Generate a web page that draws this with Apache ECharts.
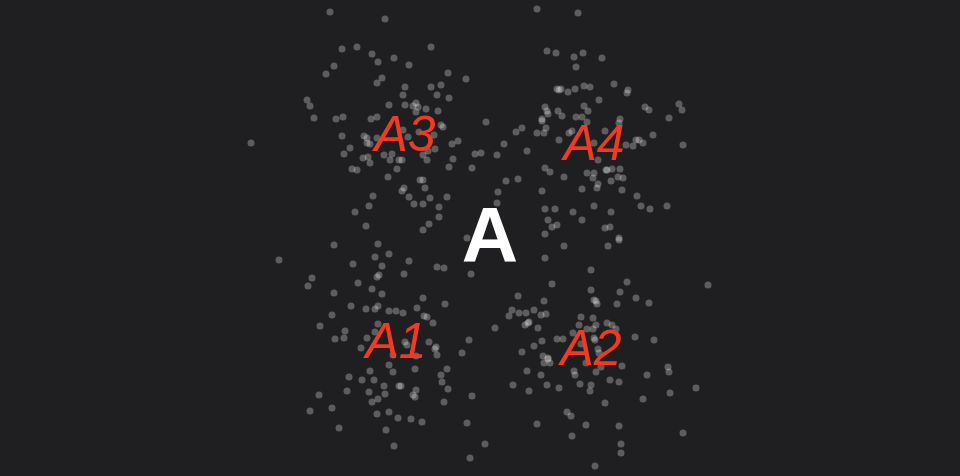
<!DOCTYPE html>
<html>
<head>
<meta charset="utf-8">
<script src="https://cdn.jsdelivr.net/npm/echarts@6/dist/echarts.min.js"></script>
<style>
html,body{margin:0;padding:0;background:#1f1f21;}
#main{width:960px;height:476px;}
</style>
</head>
<body>
<div id="main"></div>
<script>
// scatter dots, [x, y] in chart value units (y grows downward)
var dots = [
[330,12],[385,19],[342,49],[357,47],[372,54],[378,62],[394,58],[334,66],[326,74],[382,78],
[377,83],[307,100],[310,106],[389,105],[314,118],[336,119],[343,117],[371,119],[377,117],
[537,9],[431,47],[409,65],[547,51],[556,53],[448,73],[466,79],[405,87],[431,87],[441,85],
[403,95],[437,95],[449,98],[405,105],[413,106],[416,103],[418,107],[426,109],[416,112],[438,111],
[557,89],[559,90],[545,107],[547,111],[548,114],[558,111],[542,119],
[578,13],[583,53],[574,57],[602,58],[576,67],[614,84],[628,90],[627,93],[561,89],[568,92],
[575,89],[584,86],[590,87],[599,100],[584,106],[588,111],[562,116],[576,117],[582,117],
[645,107],[649,110],[679,104],[682,110],[669,118],[620,119],
[251,143],[342,136],[364,136],[367,138],[367,143],[370,144],[377,138],[350,148],[344,154],
[363,158],[368,157],[370,163],[352,169],[357,170],[384,155],[392,154],[390,160],[399,160],
[397,169],[388,177],[373,196],[369,206],[355,212],[366,226],
[441,125],[443,127],[486,122],[542,121],[403,130],[408,137],[419,132],[434,135],[516,132],
[522,128],[537,133],[544,133],[546,128],[559,140],[452,144],[458,141],[504,144],[428,151],
[435,149],[423,155],[475,154],[481,153],[497,155],[527,151],[453,159],[427,160],[402,160],
[449,167],[472,168],[545,168],[550,172],[506,181],[518,179],[420,180],[423,180],[425,188],
[404,188],[402,191],[498,192],[542,191],[409,197],[430,198],[447,197],[414,204],[423,204],
[439,207],[497,203],[545,209],[555,209],[439,217],[548,220],[552,227],[557,225],[429,224],
[423,230],[545,234],[467,238],
[569,133],[572,131],[587,122],[619,123],[605,131],[594,143],[653,135],[626,145],[633,146],
[636,140],[639,140],[643,143],[683,145],[598,160],[606,170],[607,170],[612,169],[620,169],
[587,173],[594,173],[593,178],[564,177],[611,181],[618,177],[623,178],[598,184],[597,188],
[582,189],[622,190],[637,196],[594,206],[641,206],[650,209],[667,206],[573,212],[611,212],
[582,220],[605,228],[610,227],[619,238],
[279,260],[334,245],[378,244],[375,257],[389,254],[353,264],[382,266],[379,275],[377,277],
[312,278],[308,286],[358,283],[372,289],[334,293],[382,294],[351,306],[366,309],[375,309],
[378,306],[389,311],[396,311],[332,315],[320,326],[378,324],[375,332],[345,331],[335,339],
[344,338],[367,338],[361,348],[393,355],
[545,258],[409,261],[404,274],[437,267],[444,268],[471,274],[552,284],[518,296],[544,301],
[423,298],[445,304],[417,308],[403,313],[424,316],[427,317],[433,323],[512,310],[509,316],
[519,313],[526,313],[534,310],[541,315],[546,314],[528,323],[529,322],[525,325],[538,328],
[495,328],[429,342],[469,340],[436,347],[435,349],[405,342],[407,345],[557,339],[542,341],
[534,346],[522,352],[462,353],[437,355],[543,356],[548,358],[416,356],
[564,246],[608,246],[619,240],[591,270],[627,282],[708,285],[591,290],[620,292],[594,300],
[596,301],[597,304],[617,304],[636,298],[649,303],[581,317],[593,318],[579,325],[587,329],
[593,329],[596,325],[607,323],[612,325],[616,329],[573,333],[563,339],[594,338],[595,340],
[635,337],[654,340],[581,344],[598,349],[599,353],
[389,365],[370,371],[393,372],[349,377],[362,380],[374,380],[384,386],[399,386],[347,391],
[369,392],[385,394],[378,399],[372,402],[319,395],[310,411],[332,408],[377,414],[389,412],
[398,418],[339,428],[386,430],[394,446],
[415,369],[447,369],[441,375],[442,382],[448,389],[401,386],[416,390],[413,395],[415,397],
[444,402],[472,396],[411,419],[422,422],[467,423],[485,444],[470,458],[544,363],[548,359],
[550,363],[527,371],[541,375],[513,385],[529,391],[547,385],[559,388],[537,424],
[574,371],[575,375],[596,372],[601,367],[622,366],[586,363],[647,375],[668,367],[669,372],
[610,380],[619,382],[580,384],[591,385],[590,391],[670,393],[696,388],[643,399],[605,403],
[567,412],[571,416],[586,425],[619,426],[683,433],[572,436],[621,444],[621,453],[595,466]
];

// group labels
var labelNames = ['A', 'A1', 'A2', 'A3', 'A4'];
var labelX = [490, 396, 591, 405, 594];
var labelY = [240, 344, 351, 137, 146];

var chart = echarts.init(document.getElementById('main'));
var labelData = labelNames.map(function (n, i) {
  var isRoot = i === 0;
  return {
    name: n,
    value: [labelX[i], labelY[i]],
    label: isRoot ? {
      color: '#ffffff', fontSize: 78, fontWeight: 'bold', fontStyle: 'normal'
    } : {
      color: '#f03a24', fontSize: 50, fontWeight: 'normal', fontStyle: 'italic'
    }
  };
});

chart.setOption({
  backgroundColor: '#1f1f21',
  animation: false,
  grid: { left: 0, right: 0, top: 0, bottom: 0 },
  xAxis: { type: 'value', min: 0, max: 960, show: false },
  yAxis: { type: 'value', min: 0, max: 476, inverse: true, show: false },
  series: [
    {
      type: 'scatter',
      data: dots,
      symbolSize: 7,
      itemStyle: { color: 'rgba(255,255,255,0.35)' },
      silent: true
    },
    {
      type: 'scatter',
      data: labelData,
      symbolSize: 1,
      itemStyle: { color: 'rgba(0,0,0,0)' },
      silent: true,
      z: 5,
      label: {
        show: true,
        position: 'inside',
        formatter: '{b}',
        opacity: 1,
        textBorderWidth: 0,
        textBorderColor: 'transparent',
        textShadowBlur: 0,
        fontFamily: 'Liberation Sans, Arial, sans-serif'
      }
    }
  ]
});
</script>
</body>
</html>
